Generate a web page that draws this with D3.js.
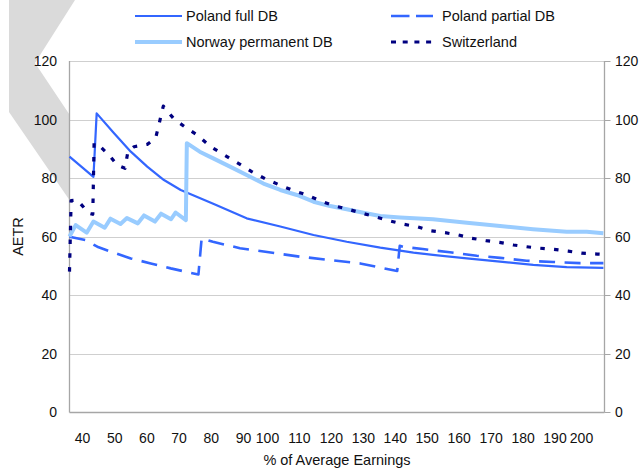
<!DOCTYPE html>
<html>
<head>
<meta charset="utf-8">
<script src="https://cdn.jsdelivr.net/npm/d3@7"></script>
<style>
  html, body { margin: 0; padding: 0; background: #fff; }
  svg { display: block; font-family: "Liberation Sans", Arial, sans-serif; }
</style>
</head>
<body>
<svg id="chart" width="640" height="470"></svg>
<script>
// ---- data ----
const xTicks = [40, 50, 60, 70, 80, 90, 100, 110, 120, 130, 140, 150, 160, 170, 180, 190, 200];
const yTicks = [0, 20, 40, 60, 80, 100, 120];

const polandFullX = [36, 43.4, 44.4, 49.8, 55, 60.1, 65.3, 70.5, 80.6, 91.3, 104, 114.4, 124.8, 135.3, 145.7, 151.8, 162.4, 172.8, 183.2, 194.4, 208];
const polandFullY = [87.3, 80.4, 102.1, 95.3, 89, 83.9, 79.3, 75.9, 71.2, 66.2, 63.4, 60.5, 58.2, 56.2, 54.5, 53.7, 52.5, 51.4, 50.3, 49.5, 49.3];

const polandPartialX = [36, 41, 44.6, 48.8, 55, 61.2, 67.4, 76, 77, 80.5, 88.9, 110.2, 129, 140.6, 141.4, 142.4, 148.6, 157.1, 165.5, 172.8, 181.1, 189.4, 199.4, 208];
const polandPartialY = [59.9, 58.8, 56.5, 54.8, 52.5, 50.8, 49.1, 47.0, 59.4, 58.2, 56, 53.1, 50.8, 48.2, 56.8, 56.5, 55.7, 54.6, 53.4, 52.7, 51.7, 51.3, 50.9, 50.9];

const norwayX = [36, 37.9, 41.3, 43.4, 46.9, 48.7, 51.8, 53.8, 57.2, 59.1, 62.5, 64.4, 67.5, 68.9, 72.1, 72.4, 76.4, 80.6, 85.8, 91.3, 98.3, 104, 109.2, 114.4, 119.6, 124.8, 130, 135.3, 141.5, 151.8, 162.4, 172.8, 183.1, 194.4, 201.9, 208];
const norwayY = [60, 63.9, 61.3, 65.1, 63, 66.1, 64.3, 66.3, 64.5, 67.2, 65.1, 67.8, 65.9, 68.2, 65.6, 91.9, 89, 86.7, 83.9, 81, 78.1, 75.9, 74.2, 71.9, 70.4, 69.3, 68.1, 67, 66.5, 65.9, 64.7, 63.6, 62.5, 61.6, 61.6, 61.1];

const swissX = [36, 36.5, 38.4, 42, 43.2, 43.6, 44.6, 48.2, 50.8, 53.2, 54.1, 56, 60.1, 62.7, 63.7, 65.1, 68.4, 72, 75.6, 79.8, 84, 88.4, 93.4, 99.4, 103.8, 108.1, 112.3, 116.5, 120.9, 125.3, 129.5, 134.2, 138.4, 142.5, 146.7, 150.9, 155.6, 159.8, 163.9, 168.4, 172.6, 177, 181.1, 185.3, 189.7, 195, 200, 205.7, 208];
const swissY = [48, 72.3, 72.5, 67.9, 67.6, 91.9, 91.7, 87.9, 84.4, 83.3, 89, 90.7, 91.5, 93.6, 98.1, 104.6, 100.2, 97.3, 94.7, 90.7, 87.9, 85, 82.2, 79.6, 77.6, 75.7, 74.2, 72.2, 70.5, 69.3, 68, 66.6, 65.3, 64.2, 63.4, 62, 61.3, 60.5, 59.4, 58.6, 58, 57.1, 56.5, 56, 55.6, 55, 54.3, 54, 53.9];

const seriesNames = ["Poland full DB", "Poland partial DB", "Norway permanent DB", "Switzerland"];

// ---- layout ----
const svg = d3.select("#chart");
const L = 69.5, R = 604.5, T = 61, B = 412;

// category-style axis: label spacing is uneven in the original
const x = d3.scaleLinear()
  .domain([36, 40, 90, 100, 190, 200, 208.4])
  .range([L, 82.5, 243.5, 267.5, 555, 581.5, R]);
const y = d3.scaleLinear().domain([0, 120]).range([B, T]);

// watermark shape (behind plot area)
svg.append("polygon")
  .attr("points", [[9, 0], [75, 0], [35, 63], [160, 250], [110, 259], [9, 112]].map(p => p.join(",")).join(" "))
  .attr("fill", "#dadada");

// plot area
svg.append("rect").attr("x", L).attr("y", T).attr("width", R - L).attr("height", B - T).attr("fill", "#fff");

// gridlines
svg.append("g").selectAll("line").data(yTicks.filter(d => d > 0)).join("line")
  .attr("x1", L).attr("x2", R)
  .attr("y1", d => Math.round(y(d)) + 0.5).attr("y2", d => Math.round(y(d)) + 0.5)
  .attr("stroke", "#cfcfcf").attr("stroke-width", 1);

// axes frame
const axisColor = "#a6a6a6";
svg.append("line").attr("x1", L).attr("x2", L).attr("y1", T).attr("y2", B + 0.5).attr("stroke", axisColor).attr("stroke-width", 1.3);
svg.append("line").attr("x1", R).attr("x2", R).attr("y1", T).attr("y2", B + 0.5).attr("stroke", axisColor).attr("stroke-width", 1.3);
svg.append("line").attr("x1", L).attr("x2", R).attr("y1", B + 0.5).attr("y2", B + 0.5).attr("stroke", axisColor).attr("stroke-width", 1.3);

// right axis outward ticks
svg.append("g").selectAll("line").data(yTicks).join("line")
  .attr("x1", R).attr("x2", R + 6)
  .attr("y1", d => Math.round(y(d)) + 0.5).attr("y2", d => Math.round(y(d)) + 0.5)
  .attr("stroke", axisColor).attr("stroke-width", 1);

// y labels
svg.append("g").selectAll("text").data(yTicks).join("text")
  .attr("x", 57).attr("y", d => y(d) + 5)
  .attr("text-anchor", "end").attr("font-size", 14).attr("fill", "#111")
  .text(d => d);
svg.append("g").selectAll("text").data(yTicks).join("text")
  .attr("x", 615).attr("y", d => y(d) + 5)
  .attr("text-anchor", "start").attr("font-size", 14).attr("fill", "#111")
  .text(d => d);

// x labels
svg.append("g").selectAll("text").data(xTicks).join("text")
  .attr("x", d => x(d)).attr("y", 442.5)
  .attr("text-anchor", "middle").attr("font-size", 14).attr("fill", "#111")
  .text(d => d);

// axis titles
svg.append("text").attr("x", (L + R) / 2).attr("y", 465)
  .attr("text-anchor", "middle").attr("font-size", 14.5).attr("fill", "#111")
  .text("% of Average Earnings");
svg.append("text").attr("transform", `translate(22.5,${(T + B) / 2}) rotate(-90)`)
  .attr("text-anchor", "middle").attr("font-size", 14.5).attr("fill", "#111")
  .text("AETR");

// series
const line = d3.line().x(d => x(d[0])).y(d => y(d[1]));
const zip = (xs, ys) => xs.map((v, i) => [v, ys[i]]);

const styles = [
  { data: zip(polandFullX, polandFullY), color: "#3366ff", width: 2.2, dash: null, legendDash: null },
  { data: zip(polandPartialX, polandPartialY), color: "#3366ff", width: 2.6, dash: "16,9.5", legendDash: "18.5,6.5" },
  { data: zip(norwayX, norwayY), color: "#99ccff", width: 4, dash: null, legendDash: null },
  { data: zip(swissX, swissY), color: "#000080", width: 3.2, dash: "4.5,9.3", legendDash: "5,6.7" }
];

styles.forEach(s => {
  svg.append("path")
    .attr("d", line(s.data))
    .attr("fill", "none")
    .attr("stroke", s.color)
    .attr("stroke-width", s.width)
    .attr("stroke-linejoin", "round")
    .attr("stroke-dasharray", s.dash);
});

// legend
const legendPos = [
  { x1: 135, x2: 182, tx: 186, cy: 16 },
  { x1: 391, x2: 433, tx: 442, cy: 16 },
  { x1: 135, x2: 182, tx: 186, cy: 42 },
  { x1: 391, x2: 433, tx: 442, cy: 42 }
];
seriesNames.forEach((name, i) => {
  const p = legendPos[i], s = styles[i];
  svg.append("line")
    .attr("x1", p.x1).attr("x2", p.x2).attr("y1", p.cy).attr("y2", p.cy)
    .attr("stroke", s.color).attr("stroke-width", s.width)
    .attr("stroke-dasharray", s.legendDash);
  svg.append("text").attr("x", p.tx).attr("y", p.cy + 5.2)
    .attr("font-size", 14.5).attr("fill", "#111").text(name);
});
</script>
</body>
</html>
